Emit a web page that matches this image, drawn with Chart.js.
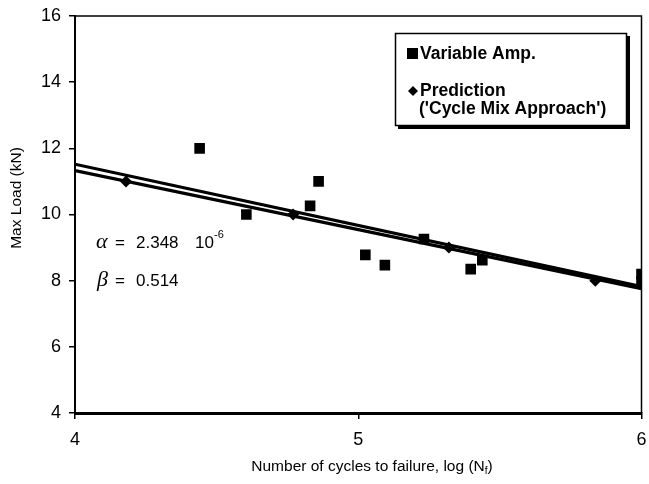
<!DOCTYPE html>
<html><head><meta charset="utf-8">
<script src="https://cdn.jsdelivr.net/npm/chart.js@4/dist/chart.umd.min.js"></script>
<style>html,body{margin:0;padding:0;background:#fff;}#wrap{width:649px;height:484px;}</style>
</head><body><div id="wrap"><canvas id="c" width="649" height="484"></canvas></div>
<script>
// ---- data ----
const variableAmpX = [4.44, 4.605, 4.83, 4.86, 5.025, 5.094, 5.232, 5.397, 5.438, 6.0, 6.0];
const variableAmpY = [12.0, 10.0, 10.26, 11.0, 8.78, 8.47, 9.26, 8.35, 8.62, 8.2, 7.97];
const predictionX = [4.18, 4.77, 5.32, 5.837];
const predictionY = [11.0, 10.0, 9.0, 8.0];
const fitUpperX = [4, 6];
const fitUpperY = [11.52, 7.82];
const fitLowerX = [4, 6];
const fitLowerY = [11.33, 7.76];
const xTickValues = [4, 5, 6];
const yTickValues = [4, 6, 8, 10, 12, 14, 16];
const legendLabels = ['Variable Amp.', 'Prediction', "('Cycle Mix Approach')"];
const yTitle = 'Max Load (kN)';
const xTitleMain = 'Number of cycles to failure, log (N';
const xTitleSub = 'f';
const alphaValue = '2.348';
const alphaExp = '-6';
const betaValue = '0.514';

const pts = (xs, ys) => xs.map((x, i) => ({x, y: ys[i]}));
const SANS = '"Liberation Sans", Arial, sans-serif';
const SERIF = '"Liberation Serif", "Times New Roman", serif';

const extras = {
  id: 'extras',
  afterDraw(chart) {
    const ctx = chart.ctx;
    const a = chart.chartArea;
    ctx.save();
    // frame top/right
    ctx.strokeStyle = '#000';
    ctx.lineWidth = 1.5;
    ctx.beginPath();
    ctx.moveTo(a.left, a.top);
    ctx.lineTo(a.right, a.top);
    ctx.lineTo(a.right, a.bottom);
    ctx.stroke();

    // legend box with shadow
    const bx = 395, by = 33, bw = 232, bh = 93;
    ctx.fillStyle = '#000';
    ctx.fillRect(bx + 3, by + 3, bw, bh);
    ctx.fillStyle = '#fff';
    ctx.fillRect(bx, by, bw, bh);
    ctx.lineWidth = 1.5;
    ctx.strokeRect(bx + 0.5, by + 0.5, bw - 1, bh - 1);
    ctx.fillStyle = '#000';
    ctx.fillRect(407, 48, 11, 11);
    ctx.beginPath();
    ctx.moveTo(413, 86); ctx.lineTo(418, 91); ctx.lineTo(413, 96); ctx.lineTo(408, 91); ctx.closePath();
    ctx.fill();
    ctx.font = 'bold 17.5px ' + SANS;
    ctx.textBaseline = 'alphabetic';
    ctx.textAlign = 'left';
    ctx.fillText(legendLabels[0], 420, 59);
    ctx.fillText(legendLabels[1], 420, 96);
    ctx.fillText(legendLabels[2], 419, 114);

    // alpha / beta annotation
    ctx.font = 'italic 22px ' + SERIF;
    ctx.fillText('\u03B1', 96, 248);
    ctx.fillText('\u03B2', 97, 286);
    ctx.font = '17px ' + SANS;
    ctx.fillText('=', 115, 248);
    ctx.fillText('=', 115, 286);
    ctx.fillText(alphaValue, 136, 248);
    ctx.fillText('10', 195, 248);
    ctx.fillText(betaValue, 136, 286);
    ctx.font = '11px ' + SANS;
    ctx.fillText(alphaExp, 214, 238);

    // x axis title with subscript
    ctx.font = '15.5px ' + SANS;
    const w1 = ctx.measureText(xTitleMain).width;
    ctx.font = '10px ' + SANS;
    const w2 = ctx.measureText(xTitleSub).width;
    ctx.font = '15.5px ' + SANS;
    const w3 = ctx.measureText(')').width;
    let x0 = 372 - (w1 + w2 + w3) / 2;
    ctx.fillText(xTitleMain, x0, 471);
    ctx.font = '10px ' + SANS;
    ctx.fillText(xTitleSub, x0 + w1, 474);
    ctx.font = '15.5px ' + SANS;
    ctx.fillText(')', x0 + w1 + w2, 471);

    // y axis title rotated
    ctx.font = '15.5px ' + SANS;
    ctx.translate(17, 198);
    ctx.rotate(-Math.PI / 2);
    ctx.textAlign = 'center';
    ctx.textBaseline = 'middle';
    ctx.fillText(yTitle, 0, 0);
    ctx.restore();
  }
};

new Chart(document.getElementById('c'), {
  type: 'scatter',
  data: {
    datasets: [
      { label: legendLabels[0], data: pts(variableAmpX, variableAmpY), pointStyle: 'rect', pointRadius: 7.5, pointHoverRadius: 7.5,
        backgroundColor: '#000', borderColor: '#000', borderWidth: 0, showLine: false, order: 1 },
      { label: legendLabels[1], data: pts(predictionX, predictionY), pointStyle: 'rectRot', pointRadius: 6, pointHoverRadius: 6,
        backgroundColor: '#000', borderColor: '#000', borderWidth: 0, showLine: false, order: 2 },
      { label: 'fit1', data: pts(fitUpperX, fitUpperY), showLine: true, borderColor: '#000', borderWidth: 3.2, pointRadius: 0, order: 3 },
      { label: 'fit2', data: pts(fitLowerX, fitLowerY), showLine: true, borderColor: '#000', borderWidth: 3.2, pointRadius: 0, order: 3 }
    ]
  },
  options: {
    responsive: false,
    animation: false,
    devicePixelRatio: 1,
    layout: { padding: { top: 16, right: 6, left: 0, bottom: 0 } },
    plugins: { legend: { display: false }, tooltip: { enabled: false } },
    scales: {
      x: {
        type: 'linear', min: 4, max: 6,
        afterFit(s) { s.height = 71; s.paddingLeft = 0; s.paddingRight = 0; },
        afterBuildTicks(s) { s.ticks = xTickValues.map(v => ({value: v})); },
        ticks: { color: '#000', font: { size: 18, family: SANS }, padding: 10, maxRotation: 0 },
        grid: { drawOnChartArea: false, drawTicks: true, tickLength: 6, color: '#000', lineWidth: 1.5 },
        border: { display: true, color: '#000', width: 3 },
        title: { display: false }
      },
      y: {
        type: 'linear', min: 4, max: 16,
        afterFit(s) { s.width = 75; s.paddingTop = 0; s.paddingBottom = 0; },
        afterBuildTicks(s) { s.ticks = yTickValues.map(v => ({value: v})); },
        ticks: { color: '#000', font: { size: 18, family: SANS }, padding: 8 },
        grid: { drawOnChartArea: false, drawTicks: true, tickLength: 6, color: '#000', lineWidth: 1.5 },
        border: { display: true, color: '#000', width: 2 },
        title: { display: false }
      }
    }
  },
  plugins: [extras]
});
</script></body></html>
